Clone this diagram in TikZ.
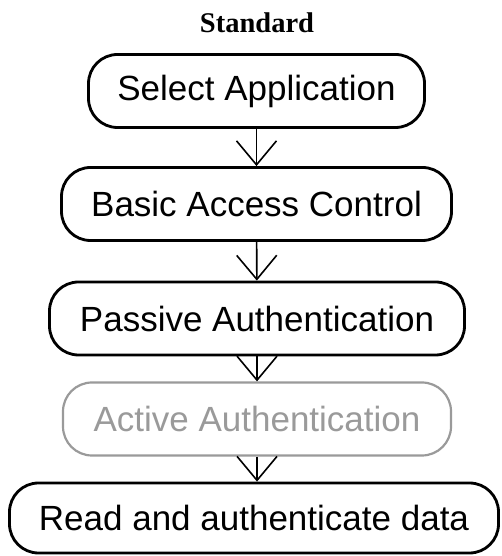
\documentclass[tikz,border=0pt]{standalone}
\usepackage{fontspec}
\setmainfont{Liberation Serif}
\setsansfont{Liberation Sans}
\usetikzlibrary{positioning, arrows.meta}
\definecolor{ink}{HTML}{000000}
\definecolor{faded}{HTML}{9a9a9a}

\begin{document}
\begin{tikzpicture}[x=1pt, y=1pt, font=\sffamily\fontsize{35}{40}\selectfont,
  stage/.style={draw=ink, line width=2.8pt, rounded corners=29pt, minimum height=73pt, align=center, inner sep=0pt},
  opt/.style={stage, draw=faded, text=faded, line width=2.2pt},
  arr/.style={-{Straight Barb[length=24pt, width=40pt, line width=1.6pt]}, line width=1.6pt, ink}
]
  \useasboundingbox (0,0) rectangle (502,556);

  \node[font=\rmfamily\bfseries\fontsize{28.5}{30}\selectfont] (title) at (257,533) {Standard};

  \node[stage, minimum width=336pt] (sel) at (256.5,465) {Select Application};
  \node[stage, minimum width=390pt] (bac) at (256.5,352) {Basic Access Control};
  \node[stage, minimum width=415pt] (pa) at (257,237.5) {Passive Authentication};
  \node[opt, minimum width=388pt] (aa) at (257,137) {Active Authentication};
  \node[stage, minimum width=489pt, minimum height=70pt] (read) at (254,38) {Read and authenticate data};

  \draw[arr] (sel) -- (bac);
  \draw[arr] (bac) -- (pa);
  \draw[arr] (pa) -- (aa);
  \draw[arr] (aa.south) -- (aa.south |- read.north);
\end{tikzpicture}
\end{document}
